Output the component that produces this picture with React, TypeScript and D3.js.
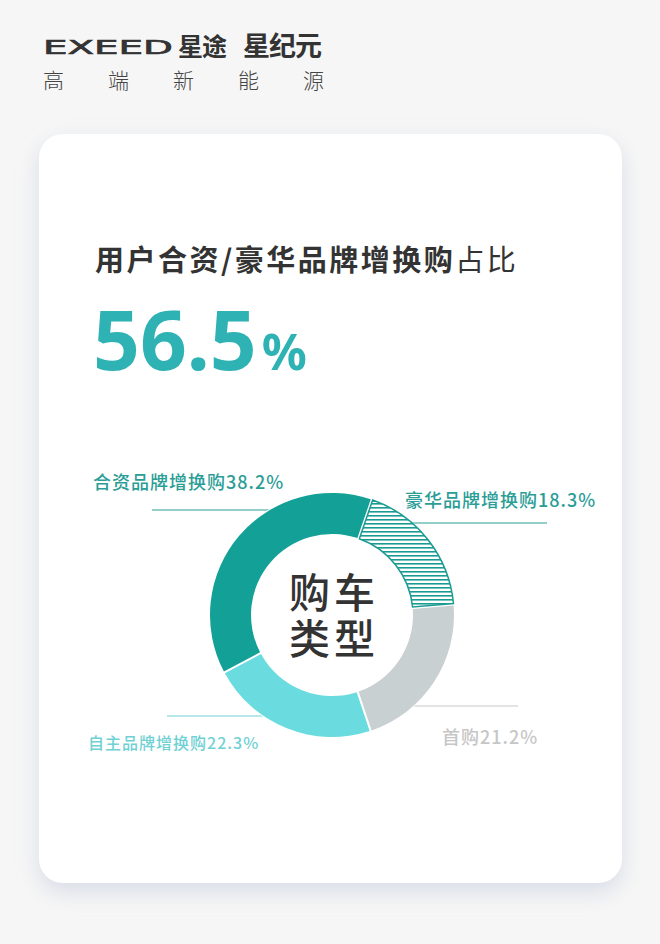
import React from "react";
import * as d3 from "d3";

const categories = ["豪华品牌增换购", "首购", "自主品牌增换购", "合资品牌增换购"];
const values = [18.3, 21.2, 22.3, 38.2];
const colors = ["hatch", "#c9d0d1", "#6adbdf", "#13a096"];
const labelColors = ["#2a9d96", "#c6c6c6", "#6fd1d4", "#2a9d96"];
const headerWords = ["高", "端", "新", "能", "源"];
const headline = 56.5;

const W = 660;
const H = 944;
const FONT = "'Noto Sans CJK SC', 'Noto Sans', sans-serif";

export default function App() {
  const cx = 332;
  const cy = 615;
  const rOuter = 122;
  const rInner = 81;
  const start = (19 * Math.PI) / 180;

  const pie = d3
    .pie<number>()
    .sort(null)
    .value((d) => d)
    .startAngle(start)
    .endAngle(start + 2 * Math.PI)
    .padAngle(0.014);
  const arcs = pie(values);
  const arcGen = d3.arc<d3.PieArcDatum<number>>().innerRadius(rInner).outerRadius(rOuter);

  // label layouts: [textX, textY, anchor, lineY, lineX(outer end), fontSize]
  const labelLayout: [number, number, "start" | "end", number, number, number][] = [
    [405, 499, "start", 523, 547, 18],
    [442, 736, "start", 706, 518, 18],
    [88, 742, "start", 716, 167, 16],
    [93, 481, "start", 510, 152, 18],
  ];

  const fmt = d3.format(".1f");

  return (
    <svg
      width={W}
      height={H}
      style={{ position: "absolute", left: 0, top: 0, display: "block" }}
      fontFamily={FONT}
    >
      <defs>
        <filter id="shadow" x="-20%" y="-20%" width="140%" height="140%">
          <feDropShadow dx="0" dy="9" stdDeviation="11" floodColor="#b3bed3" floodOpacity="0.45" />
        </filter>
        <pattern id="hatch" patternUnits="userSpaceOnUse" width="8" height="4">
          <rect width="8" height="4" fill="#ffffff" />
          <rect y="0" width="8" height="1.6" fill="#1c9b93" />
        </pattern>
      </defs>
      <rect width={W} height={H} fill="#f6f6f6" />

      {/* header */}
      <text x={43} y={54} fontSize={19} fontWeight={400} fill="#333" textLength={130} lengthAdjust="spacingAndGlyphs" fontFamily="'DejaVu Sans', sans-serif" stroke="#333" strokeWidth={0.6}>
        EXEED
      </text>
      <text x={178} y={56} fontSize={25} fontWeight={700} fill="#333" letterSpacing={-1}>
        星途
      </text>
      <text x={243} y={56} fontSize={27} fontWeight={700} fill="#333" letterSpacing={-1}>
        星纪元
      </text>
      {headerWords.map((w, i) => (
        <text key={w} x={43 + i * 65} y={79} dominantBaseline="central" fontSize={21} fontWeight={300} fill="#444">
          {w}
        </text>
      ))}

      {/* card */}
      <rect x={39} y={134} width={583} height={749} rx={24} fill="#ffffff" filter="url(#shadow)" />

      {/* title */}
      <text x={95} y={258} dominantBaseline="central" fontSize={29} fill="#333" letterSpacing={2.5}>
        <tspan fontWeight={700}>用户合资/豪华品牌增换购</tspan>
        <tspan fontWeight={400}>占比</tspan>
      </text>
      <text x={93} y={370} fill="#2eb2b4" fontWeight={700} fontFamily="'Noto Sans', sans-serif">
        <tspan fontSize={82}>{fmt(headline)}</tspan>
        <tspan fontSize={50} dx={5}>%</tspan>
      </text>

      {/* leader lines */}
      {labelLayout.map((l, i) => (
        <line
          key={"l" + i}
          x1={l[4]}
          x2={cx}
          y1={l[3]}
          y2={l[3]}
          stroke={i === 1 ? "#c8c8c8" : labelColors[i]}
          strokeWidth={1.2}
        />
      ))}

      {/* donut */}
      <g transform={`translate(${cx},${cy})`}>
        <circle r={rOuter + 1} fill="#ffffff" />
        {arcs.map((a, i) => (
          <path
            key={i}
            d={arcGen(a) || ""}
            fill={colors[i] === "hatch" ? "url(#hatch)" : colors[i]}
            stroke={colors[i] === "hatch" ? "#1c9b93" : "none"}
            strokeWidth={colors[i] === "hatch" ? 1.5 : 0}
          />
        ))}
        <text textAnchor="middle" fontSize={41} fontWeight={500} fill="#333" letterSpacing={4}>
          <tspan x={2} y={-7}>购车</tspan>
          <tspan x={2} y={39}>类型</tspan>
        </text>
      </g>

      {/* labels */}
      {labelLayout.map((l, i) => (
        <text
          key={"t" + i}
          x={l[0]}
          y={l[1]}
          dominantBaseline="central"
          fontSize={l[5]}
          fontWeight={500}
          fill={labelColors[i]}
          letterSpacing={1}
        >
          {categories[i]}
          {fmt(values[i])}%
        </text>
      ))}
    </svg>
  );
}
